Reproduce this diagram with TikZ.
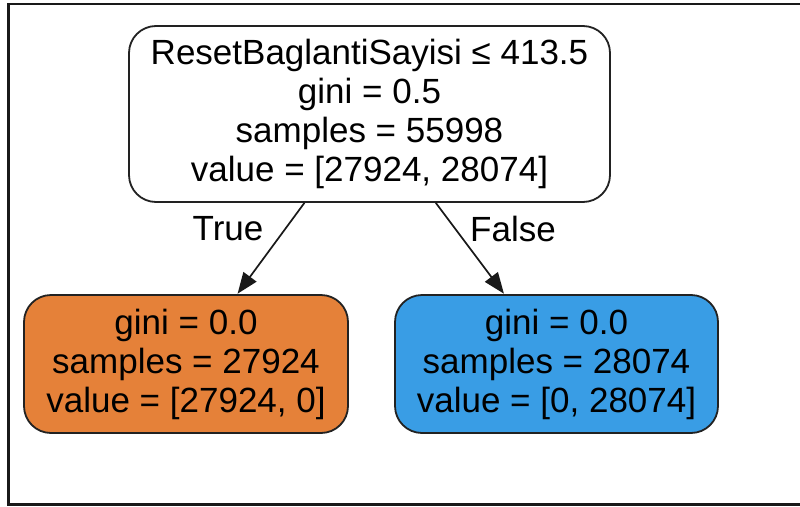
\documentclass[tikz,border=0pt]{standalone}
\usepackage{fontspec}
\setmainfont{Liberation Sans}
\usetikzlibrary{arrows.meta}
\definecolor{leafA}{HTML}{E58139}
\definecolor{leafB}{HTML}{399DE5}
\definecolor{edgegray}{HTML}{222222}
\tikzset{
  treebox/.style={draw=edgegray, line width=1.8pt, rounded corners=27pt,
    align=center, inner sep=0pt, font=\fontsize{35}{39}\selectfont},
  treeedge/.style={draw=black!90, line width=1.7pt,
    -{Triangle[length=21pt,width=16pt]}, shorten >=0.5pt},
  edgelabel/.style={font=\fontsize{35}{39}\selectfont, inner sep=0pt},
  framepart/.style={line width=2.4pt, draw=black!90}
}
\begin{document}
\begin{tikzpicture}[x=1pt,y=-1pt]
  \useasboundingbox (0,0) rectangle (800,506);
  \fill[white] (0,0) rectangle (800,506);

  % outer frame (open on the right)
  \coordinate (ftr) at (800,4);
  \coordinate (ftl) at (8.5,4);
  \coordinate (fbl) at (8.5,504.5);
  \coordinate (fbr) at (800,504.5);
  \draw[framepart] (ftr) -- (ftl) -- (fbl) -- (fbr);

  % split node
  \node[treebox, fill=white, minimum width=481pt, minimum height=176pt]
    (root) at (369.5,114)
    {ResetBaglantiSayisi ≤ 413.5\\gini = 0.5\\samples = 55998\\value = [27924, 28074]};

  % leaves
  \node[treebox, fill=leafA, minimum width=324pt, minimum height=138pt]
    (left) at (186,364)
    {gini = 0.0\\samples = 27924\\value = [27924, 0]};
  \node[treebox, fill=leafB, minimum width=323pt, minimum height=138pt]
    (right) at (556.5,364)
    {gini = 0.0\\samples = 28074\\value = [0, 28074]};

  % branches
  \draw[treeedge] (root) -- (left);
  \draw[treeedge] (root) -- (right);

  \node[edgelabel] (ltrue) at (228,229) {True};
  \node[edgelabel] (lfalse) at (513,229) {False};
\end{tikzpicture}
\end{document}
